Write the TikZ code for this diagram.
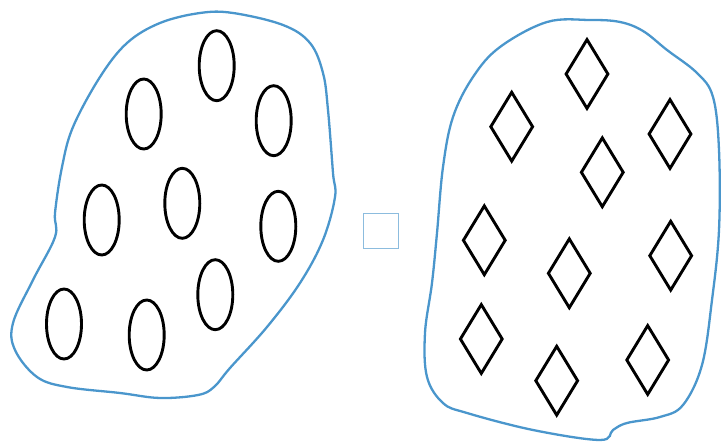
\documentclass[tikz,border=0pt]{standalone}
\usetikzlibrary{shapes.geometric}
\definecolor{blobblue}{RGB}{74,150,204}
\definecolor{boxblue}{RGB}{140,188,222}
\begin{document}
\begin{tikzpicture}[x=1pt,y=-1pt,
  oval/.style={draw, ellipse, line width=2.9pt, minimum width=35pt, minimum height=70pt, inner sep=0pt},
  rhomb/.style={draw, diamond, line width=2.9pt, minimum width=43pt, minimum height=70pt, inner sep=0pt},
  blob/.style={draw=blobblue, line width=2.3pt}]
 \useasboundingbox (0,0) rectangle (721,443);

% LEFT SET
 \draw[blob] plot[smooth cycle, tension=0.6] coordinates {
   (233,13) (200,13) (160,23) (127,43) (100,77) (73,127) (62,167) (55,213)
   (55,237) (33,280) (13,323) (15,350) (37,377) (67,387) (120,393)
   (160,398) (198,395) (214,387) (230,368) (267,327) (300,283) (323,240) (335,197)
   (333,173) (328,110) (323,73) (310,43) (283,25)};

 \node[oval] (o1) at (216.7,65.7) {};
 \node[oval] (o2) at (143.7,114) {};
 \node[oval] (o3) at (273.7,120.7) {};
 \node[oval] (o4) at (101.7,220) {};
 \node[oval] (o5) at (182.3,203.3) {};
 \node[oval] (o6) at (278.3,226.3) {};
 \node[oval] (o7) at (215.3,294.7) {};
 \node[oval] (o8) at (64,324) {};
 \node[oval] (o9) at (146.7,335) {};

% BOX
 \node[draw=boxblue, line width=1.2pt, minimum size=35pt, inner sep=0pt] (box) at (381,231) {};

% RIGHT SET
 \draw[blob] plot[smooth cycle, tension=0.6] coordinates {
   (590,20) (547,22) (500,47) (473,77) (453,117) (443,167) (437,233)
   (432,283) (425,333) (427,377) (443,403) (467,413) (533,430) (600,440)
   (613,430) (627,423) (660,417) (683,405) (702,365) (712,300)
   (719,230) (719,150) (713,97) (697,73) (667,50) (643,31) (620,22)};

 \node[rhomb] (d1) at (587,74) {};
 \node[rhomb] (d2) at (511.7,126.7) {};
 \node[rhomb] (d3) at (670,134) {};
 \node[rhomb] (d4) at (602.3,172.3) {};
 \node[rhomb] (d5) at (484.3,240.3) {};
 \node[rhomb] (d6) at (569.3,273.3) {};
 \node[rhomb] (d7) at (670.7,255.7) {};
 \node[rhomb] (d8) at (481.3,339) {};
 \node[rhomb] (d9) at (556.7,380.7) {};
 \node[rhomb] (d10) at (647.7,360) {};

\end{tikzpicture}
\end{document}
